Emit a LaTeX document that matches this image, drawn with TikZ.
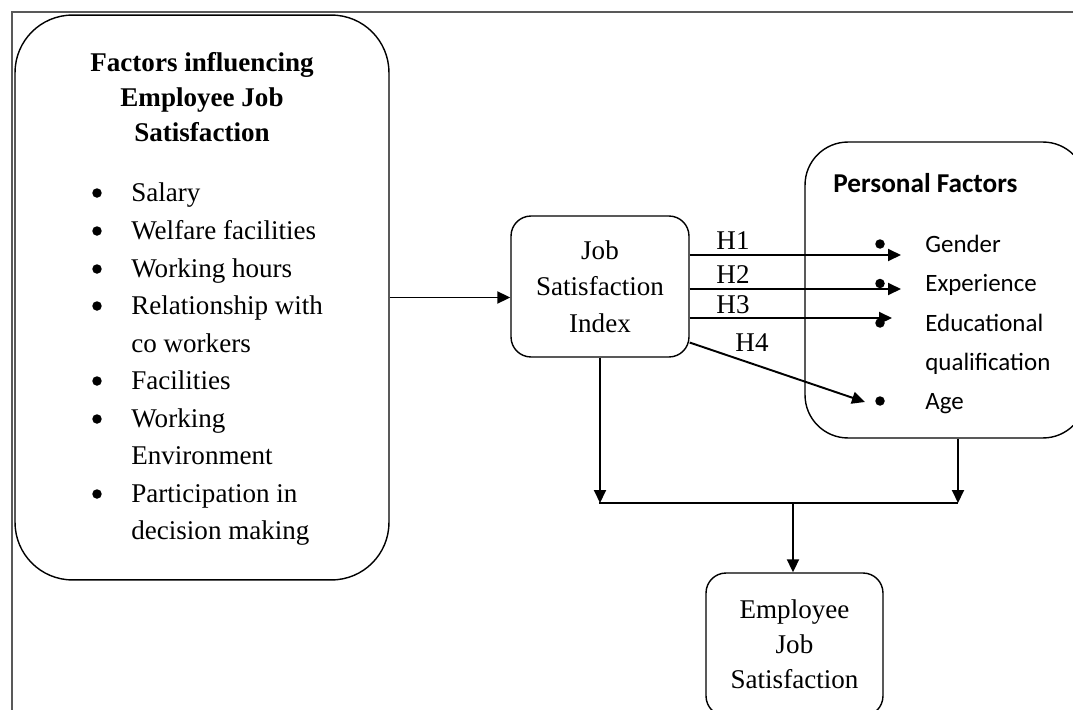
\documentclass[tikz,border=0pt]{standalone}
\usepackage{fontspec}
\setmainfont{Liberation Serif}
\newfontfamily\calibri{Carlito}
\usetikzlibrary{arrows.meta}

\newcommand\bodyfont{\fontsize{15.4}{19.9}\selectfont}
\newcommand\sansfont{\calibri\fontsize{14.2}{17}\selectfont}

\tikzset{
  box/.style={draw, line width=0.8pt, inner sep=0pt},
  conn/.style={line width=1.1pt},
  arr/.style={conn, -{Triangle[length=0.26cm, width=0.24cm]}},
  dot/.style={fill, circle, inner sep=0pt, minimum size=0.19cm},
  item/.style={anchor=base west, inner sep=0pt, font=\bodyfont},
  pitem/.style={anchor=base west, inner sep=0pt, font=\sansfont},
  hlabel/.style={inner sep=0pt, font=\bodyfont},
}

\begin{document}
\begin{tikzpicture}[x=0.02cm, y=-0.02cm]
  \clip (0,0) rectangle (1073,710);
  % page frame
  \draw[gray!70!black, line width=0.05cm] (12,720) -- (12,12) -- (1080,12);
  % factors box
  \node[box, rounded corners=1.15cm, minimum width=7.48cm, minimum height=11.3cm] (factors) at (202,297.5) {};
  \node[inner sep=0pt, align=center, font=\bfseries\bodyfont] (ftitle) at (202,97)
    {Factors influencing\\Employee Job\\Satisfaction};
  \foreach \n/\yb/\txt in {1/201/Salary, 2/239/Welfare facilities, 3/277/Working hours,
      4/314/Relationship with, 5/389/Facilities, 6/427/Working, 7/502/Participation in} {
    \node[dot] (fb\n) at (97,\yb-8) {};
    \node[item] (f\n) at (131,\yb) {\txt};
  }
  \node[item] (f4b) at (131,352) {co workers};
  \node[item] (f6b) at (131,464) {Environment};
  \node[item] (f7b) at (131,539) {decision making};
  % job satisfaction index
  \node[box, rounded corners=0.4cm, minimum width=3.56cm, minimum height=2.82cm, align=center,
    font=\fontsize{15.4}{20.7}\selectfont] (jsi) at (600,286.5) {Job\\Satisfaction\\Index};
  \draw[arr] (factors.east) -- (factors.east -| jsi.west);
  % personal factors
  \node[box, rounded corners=0.86cm, minimum width=5.62cm, minimum height=5.92cm] (pers) at (945.5,290) {};
  \node[anchor=base west, inner sep=0pt, font=\calibri\bfseries\fontsize{15.5}{18}\selectfont] (ptitle)
    at (833,192) {Personal Factors};
  \foreach \n/\yb/\txt in {1/252/Gender, 2/291.5/Experience, 3/331/Educational, 5/409/Age} {
    \node[dot] (pb\n) at (880,\yb-8) {};
    \node[pitem] (p\n) at (925,\yb) {\txt};
  }
  \node[pitem] (p4) at (925,370) {qualification};
  % hypotheses
  \coordinate (t1) at (901,255);
  \coordinate (t2) at (901,289);
  \coordinate (t3) at (892,318);
  \coordinate (t4) at (865,402);
  \draw[arr] (jsi.east |- t1) -- (t1);
  \draw[arr] (jsi.east |- t2) -- (t2);
  \draw[arr] (jsi.east |- t3) -- (t3);
  \draw[arr] (jsi.-32) -- (t4);
  \node[hlabel] (h1) at (733,241) {H1};
  \node[hlabel] (h2) at (733,275) {H2};
  \node[hlabel] (h3) at (733,305) {H3};
  \node[hlabel] (h4) at (752,343) {H4};
  % employee job satisfaction
  \node[box, rounded corners=0.4cm, minimum width=3.54cm, minimum height=2.86cm, align=center,
    font=\bodyfont] (emp) at (794.5,644.5) {Employee\\Job\\Satisfaction};
  \coordinate (mleft) at (599,503);
  \coordinate (mright) at (958,503);
  \coordinate (mmid) at (793,503);
  \draw[arr] (jsi.south) -- (jsi.south |- mleft);
  \draw[arr] (mright |- pers.south) -- (mright);
  \draw[conn] (mleft) -- (mright);
  \draw[arr] (mmid) -- (mmid |- emp.north);
\end{tikzpicture}
\end{document}
